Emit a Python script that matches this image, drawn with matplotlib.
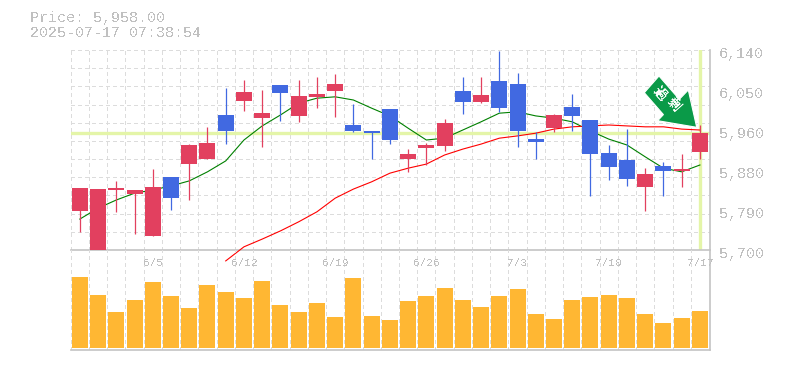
import numpy as np
import matplotlib
import matplotlib.pyplot as plt
from matplotlib.patches import Polygon
from matplotlib.transforms import IdentityTransform

matplotlib.use('Agg')

plt.rcParams['font.family'] = ['Liberation Mono', 'DejaVu Sans Mono']
plt.rcParams['text.antialiased'] = False

# DATA
opens = [5786, 5700, 5832, 5823, 5731, 5861, 5889, 5900, 5997, 6028, 5990, 6063,
         5995, 6037, 6050, 5975, 5962, 6010, 5900, 5924, 5929, 6050, 6026, 6072,
         6065, 5944, 5968, 6015, 5986, 5913, 5898, 5839, 5885, 5874, 5916]
highs = [5836, 5834, 5852, 5832, 5878, 5861, 5933, 5971, 6056, 6074, 6052, 6063,
         6074, 6081, 6087, 6021, 5962, 6010, 5922, 5935, 5988, 6081, 6081, 6138,
         6089, 5960, 5999, 6043, 5986, 5931, 5966, 5880, 5894, 5911, 5975]
lows = [5740, 5700, 5784, 5735, 5731, 5788, 5810, 5900, 5933, 6006, 5927, 5984,
        5982, 6012, 5993, 5960, 5900, 5933, 5872, 5887, 5918, 5999, 6023, 6004,
        5927, 5900, 5960, 5962, 5819, 5854, 5841, 5786, 5819, 5839, 5900]
closes = [5836, 5834, 5836, 5832, 5839, 5814, 5931, 5935, 5962, 6048, 6001, 6045,
          6039, 6043, 6065, 5962, 5957, 5942, 5911, 5931, 5979, 6026, 6041, 6012,
          5962, 5938, 5997, 5995, 5911, 5883, 5856, 5867, 5874, 5878, 5958]
short_ma = [5768, 5792, 5810, 5825, 5832, 5841, 5852, 5872, 5896, 5942, 5973, 5997,
            6023, 6034, 6037, 6030, 6012, 5995, 5968, 5942, 5946, 5964, 5982, 6001,
            6004, 5995, 5990, 5982, 5962, 5944, 5931, 5905, 5880, 5872, 5887]
long_ma = [5676, 5707, 5724, 5742, 5762, 5784, 5814, 5834, 5850, 5869, 5880, 5889,
           5909, 5922, 5933, 5946, 5951, 5957, 5966, 5971, 5973, 5975, 5973, 5971,
           5971, 5966, 5964]
volumes = [71, 53, 36, 48, 66, 52, 40, 63, 56, 50, 67, 43, 36, 45, 31, 70, 32, 28,
           47, 52, 60, 48, 41, 52, 59, 34, 29, 48, 51, 53, 50, 34, 25, 30, 37]
date_idx = [4, 9, 14, 19, 24, 29, 34]
date_labels = ['6/5', '6/12', '6/19', '6/26', '7/3', '7/10', '7/17']
price_ticks = [5700, 5788, 5876, 5964, 6052, 6140]
price_labels = ['5,700', '5,790', '5,880', '5,960', '6,050', '6,140']
last_price = 5958
last_idx = 34

RED = '#e2405f'
BLUE = '#4169e1'
TEXT = '#c0c0c0'
GRID = '#dcdcdc'
FRAME = '#c4c4c4'
MARK = '#e4f5a8'

W, H = 785, 370
fig = plt.figure(figsize=(W / 100, H / 100), dpi=100)
left, right = 70.7, 710.5
ax = fig.add_axes([left / W, (H - 250) / H, (right - left) / W, 200 / H])
vol_ax = fig.add_axes([left / W, (H - 350) / H, (right - left) / W, 100 / H])

x = np.arange(len(closes))
for a in (ax, vol_ax):
    a.set_xlim(-0.5, 34.58)
    a.set_xticks(x - 0.5)
    a.set_xticklabels([])
    a.tick_params(length=0)
    a.grid(axis='x', color=GRID, linestyle=(0, (3, 3)), linewidth=0.72, zorder=1,
           antialiased=False)
    a.set_axisbelow(True)
    a.patch.set_alpha(0)
    for side in ('left', 'top'):
        a.spines[side].set_visible(False)
    for side in ('right', 'bottom'):
        a.spines[side].set_color(FRAME)
        a.spines[side].set_linewidth(1.2)

ax.set_ylim(5700, 6140)
ax.set_yticks(np.arange(5700, 6141, 40))
ax.set_yticklabels([])
ax.grid(axis='y', color=GRID, linestyle=(0, (3, 3)), linewidth=0.72, zorder=1,
        antialiased=False)

# current price / last bar markers
ax.axhline(last_price, color=MARK, linewidth=2.4, zorder=2)
ax.axvline(last_idx, color=MARK, linewidth=2.4, zorder=2)

# moving averages
ax.plot(x, short_ma, color='#008000', linewidth=0.8, zorder=3, clip_on=False)
ax.plot(x[8:], long_ma, color='#ff0000', linewidth=0.8, zorder=3, clip_on=False)

# candles
colors = [RED if c >= o else BLUE for o, c in zip(opens, closes)]
ax.vlines(x, lows, highs, colors=colors, linewidth=0.9, zorder=4)
bottoms = np.minimum(opens, closes)
heights = np.abs(np.array(closes) - np.array(opens))
ax.bar(x, heights, bottom=bottoms, width=0.877, color=colors, zorder=4, linewidth=0)

# volume
vol_ax.bar(x, volumes, width=0.877, color='#ffb733', zorder=2, linewidth=0)
vol_ax.set_ylim(-2, 98)
vol_ax.set_yticks([])

for p, lab in zip(price_ticks, price_labels):
    ax.annotate(lab, xy=(1, p), xycoords=('axes fraction', 'data'), xytext=(6.1, -2.9),
                textcoords='offset points', va='center', ha='left', fontsize=10.8,
                color=TEXT, annotation_clip=False)

for i, lab in zip(date_idx, date_labels):
    vol_ax.annotate(lab, xy=(i, 1), xycoords=('data', 'axes fraction'), xytext=(0, -9.2),
                    textcoords='offset points', va='center', ha='center', fontsize=8,
                    color=TEXT, annotation_clip=False)

fig.text(30 / W, 1 - 18 / H, 'Price: 5,958.00', fontsize=10.8, color=TEXT, va='center')
fig.text(30 / W, 1 - 33 / H, '2025-07-17 07:38:54', fontsize=10.8, color=TEXT, va='center')

# signal arrow, placed in figure pixels
arrow_px = [(659, 76), (644.3, 92.7), (663.4, 114.6), (657.7, 120.7), (696.7, 127.3),
            (688.3, 90), (679.3, 99.3)]
arrow_pts = [(px, H - py) for px, py in arrow_px]
fig.add_artist(Polygon(arrow_pts, closed=True, facecolor='#0a9a48', edgecolor='white',
                       linewidth=0.8, transform=IdentityTransform(), zorder=6))
for ch, px, py in [('過', 660, 94), ('剰', 674, 105)]:
    fig.text(px / W, 1 - py / H, ch, color='white', fontsize=9.5, fontweight='bold',
             family=['Noto Sans CJK JP', 'DejaVu Sans'], rotation=-48, rotation_mode='anchor',
             ha='center', va='center', zorder=7)

fig.savefig('out.png', dpi=100)
